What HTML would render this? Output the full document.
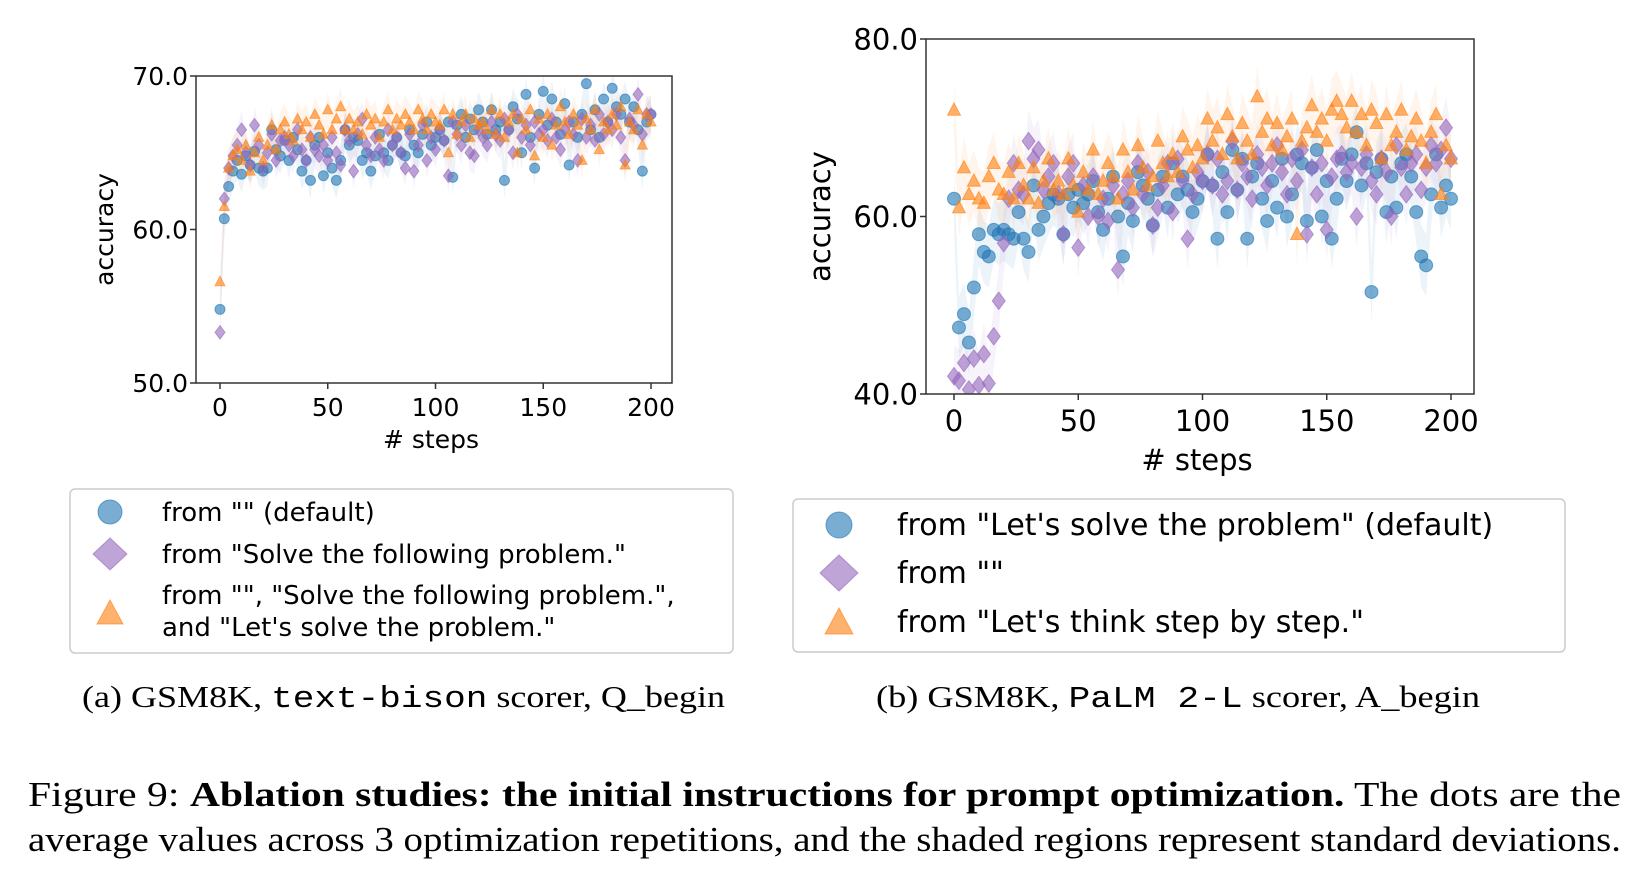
<!DOCTYPE html>
<html><head><meta charset="utf-8"><style>
body{margin:0;background:#fff;}
svg{display:block;font-family:"DejaVu Sans","Liberation Sans",sans-serif;}
</style></head><body>
<svg id="fig" width="1637" height="872" viewBox="0 0 1637 872">
<g id="chartA"></g>
<g id="chartB"></g>
<g>
<rect x="70" y="489" width="663" height="164" rx="5" fill="#fff" stroke="#ccc" stroke-width="1.5"/>
<circle cx="110" cy="512" r="12" fill="#1f77b4" fill-opacity="0.6" stroke="#1f77b4" stroke-opacity="0.6"/>
<polygon points="110,538 127,554 110,570 93,554" fill="#9467bd" fill-opacity="0.6" stroke="#9467bd" stroke-opacity="0.6"/>
<polygon points="110,600 123,624 97,624" fill="#ff7f0e" fill-opacity="0.6" stroke="#ff7f0e" stroke-opacity="0.6"/>
<text x="162" y="521" font-size="26">from "" (default)</text>
<text x="162" y="563" font-size="26">from "Solve the following problem."</text>
<text x="162" y="604" font-size="26">from "", "Solve the following problem.",</text>
<text x="162" y="636" font-size="26">and "Let's solve the problem."</text>
</g>
<g>
<rect x="793" y="499" width="772" height="153" rx="5" fill="#fff" stroke="#ccc" stroke-width="1.5"/>
<circle cx="839" cy="525" r="13" fill="#1f77b4" fill-opacity="0.6" stroke="#1f77b4" stroke-opacity="0.6"/>
<polygon points="839,555 858,573 839,591 820,573" fill="#9467bd" fill-opacity="0.6" stroke="#9467bd" stroke-opacity="0.6"/>
<polygon points="839,608 853,634 825,634" fill="#ff7f0e" fill-opacity="0.6" stroke="#ff7f0e" stroke-opacity="0.6"/>
<text x="897" y="535" font-size="30">from "Let's solve the problem" (default)</text>
<text x="897" y="583" font-size="30">from ""</text>
<text x="897" y="632" font-size="30">from "Let's think step by step."</text>
</g>
<g font-family="'Liberation Serif',serif" font-size="31">
<text x="82" y="707" textLength="643" lengthAdjust="spacingAndGlyphs">(a) GSM8K, <tspan font-family="'Liberation Mono',monospace">text-bison</tspan> scorer, Q_begin</text>
<text x="876" y="707" textLength="604" lengthAdjust="spacingAndGlyphs">(b) GSM8K, <tspan font-family="'Liberation Mono',monospace">PaLM 2-L</tspan> scorer, A_begin</text>
</g>
<g font-family="'Liberation Serif',serif" font-size="35">
<text x="28" y="806" textLength="1593" lengthAdjust="spacingAndGlyphs">Figure 9: <tspan font-weight="bold">Ablation studies: the initial instructions for prompt optimization.</tspan> The dots are the</text>
<text x="28" y="851" textLength="1593" lengthAdjust="spacingAndGlyphs">average values across 3 optimization repetitions, and the shaded regions represent standard deviations.</text>
</g>
</svg>
<script>
const stepInterval = 2;
const blueA = [54.8,60.7,62.8,63.8,64.5,63.6,64.8,64.2,65.1,64.0,63.8,
64.0,66.5,65.2,64.8,65.8,64.5,66.0,65.2,63.8,64.5,
63.2,65.5,66.0,63.5,65.0,64.0,63.2,64.5,66.5,65.5,
66.0,65.8,64.5,65.0,63.8,64.8,66.2,65.0,64.5,65.5,
66.0,65.0,64.8,66.5,65.5,65.0,66.2,67.0,65.5,66.0,
66.5,65.8,67.0,63.4,66.8,67.5,66.0,67.2,66.5,67.8,
67.0,66.2,67.8,66.5,67.0,63.2,66.5,68.0,67.2,65.0,
68.8,66.0,64.0,67.5,69.0,66.8,68.5,67.0,66.2,68.2,
64.2,67.0,66.0,67.5,69.5,66.5,67.8,66.0,68.5,67.0,
69.2,68.0,67.5,68.5,67.0,68.0,66.5,63.8,67.0,67.5];
const purpleA = [53.3,62.0,64.0,64.8,65.5,66.5,65.0,64.2,66.8,65.5,64.0,
65.0,66.2,64.5,65.8,66.0,65.5,64.8,66.5,65.2,64.5,
66.0,65.2,64.8,65.5,64.5,66.0,65.0,64.2,66.5,65.8,
63.8,66.2,67.2,65.5,64.8,66.0,65.2,64.5,66.5,65.5,
66.0,65.0,64.0,66.2,63.8,65.5,66.8,64.5,66.0,65.2,
66.5,65.8,63.5,67.0,66.2,65.5,66.8,65.0,64.8,66.5,
66.0,65.5,67.0,66.2,65.8,67.2,66.5,65.0,67.5,66.0,
66.8,65.5,67.0,66.2,66.5,65.8,67.2,66.0,65.2,66.5,
67.0,66.2,64.5,67.2,66.0,66.8,65.8,67.5,66.2,67.0,
66.5,67.5,66.0,64.5,67.2,66.8,68.8,66.2,67.5,67.5];
const orangeA = [56.6,61.5,64.0,64.8,65.2,64.5,65.5,63.8,65.0,66.0,64.5,
65.5,66.8,65.2,66.5,67.0,66.2,65.8,67.2,66.5,67.0,
66.0,67.5,66.8,66.2,67.8,66.5,67.2,68.0,66.5,67.2,
66.5,67.0,66.2,67.5,66.8,67.2,66.0,67.0,67.8,66.5,
67.2,66.8,67.5,67.0,66.5,67.8,67.2,66.5,67.5,67.0,
66.8,67.8,65.0,67.5,66.2,67.0,67.5,66.0,67.2,66.8,
67.0,66.5,67.8,66.2,67.5,66.0,67.0,67.5,65.0,67.2,
66.5,67.8,64.8,67.2,66.0,67.5,65.5,66.8,68.0,67.0,
66.2,67.5,66.8,64.5,67.2,66.5,67.8,65.2,67.0,66.5,
67.5,66.8,68.0,64.2,67.0,66.5,67.8,65.5,67.5,67.0];
const blueB = [62.0,47.5,49.0,45.8,52.0,58.0,56.0,55.5,58.5,58.0,58.5,
58.0,57.5,60.5,57.5,56.0,63.5,58.5,60.0,61.5,62.5,
62.0,58.0,62.5,61.0,63.0,61.5,62.5,64.0,60.5,58.5,
62.0,64.5,60.0,55.5,61.5,59.5,65.0,63.5,62.0,59.0,
63.0,64.5,61.0,66.0,62.5,64.5,63.0,60.5,62.0,64.0,
67.0,63.5,57.5,65.0,60.5,67.5,63.0,66.5,57.5,64.5,
66.0,62.0,59.5,64.0,61.0,66.5,60.0,62.5,67.0,66.0,
59.5,65.5,67.5,60.0,64.0,57.5,62.0,66.5,64.0,67.0,
69.5,63.5,66.0,51.5,65.0,66.5,60.5,64.5,61.0,66.0,
67.0,64.5,60.5,55.5,54.5,62.5,67.0,61.0,63.5,62.0];
const purpleB = [42.0,41.5,43.5,40.5,44.0,41.0,44.5,41.2,46.5,50.5,57.0,
62.0,66.0,63.0,62.5,68.5,66.5,67.5,63.0,64.5,66.0,
62.5,58.0,64.5,66.0,56.5,63.5,60.0,64.5,60.0,62.0,
59.5,63.5,54.0,62.5,64.0,61.0,66.0,62.5,65.0,59.0,
61.0,63.5,66.0,60.5,66.5,64.0,57.5,62.5,65.0,64.0,
67.0,63.5,66.5,62.5,64.0,68.5,63.0,66.0,64.5,62.0,
67.0,65.5,63.5,66.0,68.0,65.0,62.5,66.5,64.0,67.5,
58.0,65.5,62.5,66.0,58.5,64.5,66.5,67.0,65.0,66.0,
60.0,65.5,67.0,64.0,62.5,66.5,65.0,60.0,68.0,65.5,
62.5,66.0,67.0,63.0,65.5,68.0,66.0,67.5,70.0,66.5];
const orangeB = [72.0,61.0,65.5,62.5,64.0,62.0,61.5,64.5,66.0,63.0,62.5,
65.0,62.0,66.0,63.5,62.0,65.5,61.5,64.0,66.5,63.0,
64.0,62.5,66.5,63.5,60.5,65.0,63.0,67.5,62.5,64.0,
66.0,64.5,62.0,67.5,65.0,63.0,68.0,65.5,63.5,64.5,
68.5,66.0,64.5,67.0,65.0,69.0,67.5,65.5,68.0,66.5,
71.0,68.5,70.0,67.0,71.5,69.0,66.5,70.5,68.5,67.0,
73.5,69.5,71.0,68.0,70.5,67.5,69.0,71.0,58.0,68.5,
70.0,72.5,69.5,71.0,68.5,72.0,73.0,71.5,70.0,73.0,
69.5,71.5,68.0,72.0,70.5,66.5,71.5,68.0,69.5,72.0,
67.5,69.0,71.0,68.5,66.0,69.5,71.5,62.5,68.0,66.5];
const xTicks = [0,50,100,150,200];
const yTicksA = [50,60,70];
const yTicksB = [40,60,80];

const NS = "http://www.w3.org/2000/svg";
function mk(tag, attrs, parent){const e=document.createElementNS(NS,tag);for(const k in attrs)e.setAttribute(k,attrs[k]);parent.appendChild(e);return e;}

function drawChart(g, cfg){
  const xs = v => cfg.x0 + (v - 0) / 200 * (cfg.x200 - cfg.x0);
  const ys = v => cfg.bottom - (v - cfg.ymin) / (cfg.ymax - cfg.ymin) * (cfg.bottom - cfg.top);
  const clipId = cfg.id + "clip";
  const defs = mk("defs", {}, g);
  const cp = mk("clipPath", {id: clipId}, defs);
  mk("rect", {x: cfg.left, y: cfg.top, width: cfg.right - cfg.left, height: cfg.bottom - cfg.top}, cp);
  const plot = mk("g", {"clip-path": "url(#" + clipId + ")"}, g);
  
  
  const colors = {blue: "#1f77b4", purple: "#9467bd", orange: "#ff7f0e"};
  cfg.series.forEach(s => {
    let up = [], dn = [];
    s.vals.forEach((v, i) => { const x = xs(i * stepInterval); up.push(x + "," + ys(v + cfg.sd)); dn.unshift(x + "," + ys(v - cfg.sd)); });
    const band = mk("polygon", {points: up.concat(dn).join(" "), fill: colors[s.c], "fill-opacity": 0.08, stroke: "none"}, plot);
    
    
  });
  cfg.series.forEach(s => {
    const col = colors[s.c];
    const grp = mk("g", {fill: col, "fill-opacity": 0.6, stroke: col, "stroke-opacity": 0.6, "stroke-width": 1}, plot);
    
    
    const r = cfg.r;
    s.vals.forEach((v, i) => {
      const x = xs(i * stepInterval), y = ys(v);
      let m;
      if (s.m === "circle") m = mk("circle", {cx: x, cy: y, r: r}, grp);
      else if (s.m === "diamond") m = mk("polygon", {points: `${x},${y - r * 1.35} ${x + r},${y} ${x},${y + r * 1.35} ${x - r},${y}`}, grp);
      else m = mk("polygon", {points: `${x},${y - r * 1.1} ${x + r},${y + r * 0.8} ${x - r},${y + r * 0.8}`}, grp);
      
      
    });
  });
  const frame = mk("rect", {x: cfg.left, y: cfg.top, width: cfg.right - cfg.left, height: cfg.bottom - cfg.top, fill: "none", stroke: "#333", "stroke-width": 1.5}, g);
  
  
  xTicks.forEach(t => {
    const x = xs(t);
    mk("line", {x1: x, x2: x, y1: cfg.bottom, y2: cfg.bottom + 6, stroke: "#333", "stroke-width": 1.5}, g);
    const tl = mk("text", {x: x, y: cfg.bottom + 8 + cfg.fs, "font-size": cfg.fs, "text-anchor": "middle"}, g);
    tl.textContent = t;
    
    
  });
  cfg.yTicks.forEach(t => {
    const y = ys(t);
    mk("line", {x1: cfg.left - 6, x2: cfg.left, y1: y, y2: y, stroke: "#333", "stroke-width": 1.5}, g);
    const tl = mk("text", {x: cfg.left - 8, y: y + cfg.fs * 0.36, "font-size": cfg.fs, "text-anchor": "end"}, g);
    tl.textContent = t.toFixed(1);
    
    
  });
  const xl = mk("text", {x: (cfg.left + cfg.right) / 2 - 3, y: cfg.xlY, "font-size": cfg.fs, "text-anchor": "middle"}, g);
  xl.textContent = "# steps";
  
  
  const yl = mk("text", {x: 0, y: 0, "font-size": cfg.fs, "text-anchor": "middle", transform: `translate(${cfg.ylX},${(cfg.top + cfg.bottom) / 2}) rotate(-90)`}, g);
  yl.textContent = "accuracy";
  
  
}

drawChart(document.getElementById("chartA"), {id: "a", left: 196, right: 672, top: 76, bottom: 383, x0: 220, x200: 651, ymin: 50, ymax: 70, yTicks: yTicksA, fs: 25, r: 5, sd: 1.2, xlY: 448, ylX: 113,
  series: [{vals: blueA, c: "blue", m: "circle"}, {vals: purpleA, c: "purple", m: "diamond"}, {vals: orangeA, c: "orange", m: "triangle"}]});
drawChart(document.getElementById("chartB"), {id: "b", left: 926, right: 1474, top: 39, bottom: 394, x0: 954, x200: 1451, ymin: 40, ymax: 80, yTicks: yTicksB, fs: 29, r: 6.5, sd: 3.5, xlY: 470, ylX: 830,
  series: [{vals: blueB, c: "blue", m: "circle"}, {vals: purpleB, c: "purple", m: "diamond"}, {vals: orangeB, c: "orange", m: "triangle"}]});
</script>
</body></html>
